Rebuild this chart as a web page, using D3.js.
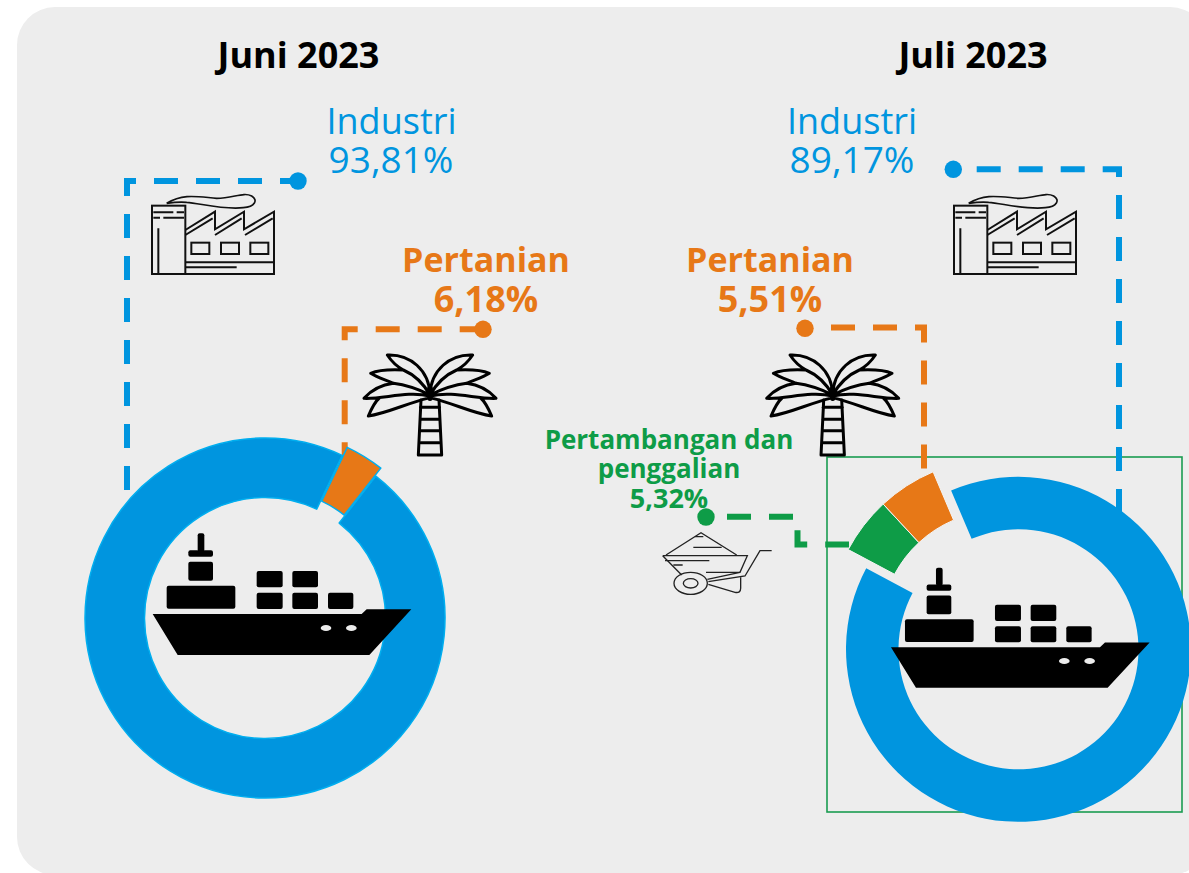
<!DOCTYPE html>
<html>
<head>
<meta charset="utf-8">
<script src="https://cdn.jsdelivr.net/npm/d3@7"></script>
<style>
    html, body { margin: 0; padding: 0; background: #fff; overflow: hidden; }
    svg { display: block; font-family: "Open Sans", sans-serif; }
</style>
</head>
<body>
<svg width="1189" height="873"></svg>
<script>
// Values as printed on the labels
var titles = ["Juni 2023", "Juli 2023"];
var sectorNames = ["Industri", "Pertanian", "Pertambangan dan", "penggalian"];
var juniLabels = ["93,81%", "6,18%"];
var juliLabels = ["89,17%", "5,51%", "5,32%"];

// Ring shares, clockwise. Juni is what the picture draws: its orange slice spans
// about 12.6 degrees (3.5%), not the 6.18% on the label. Juli matches its labels.
var juniShares = [96.5, 3.5];
var juliShares = [89.17, 5.32, 5.51];

var blue = "#0095df";
var orange = "#e77817";
var green = "#0e9c47";
var panel = "#ededed";

var juniColors = [blue, orange];
var juliColors = [blue, green, orange];

var svg = d3.select("svg");
var deg = Math.PI / 180;

// Panel
svg.append("rect")
    .attr("x", 17).attr("y", 7)
    .attr("width", 1191).attr("height", 868)
    .attr("rx", 38).attr("ry", 38)
    .attr("fill", panel);

// Green frame behind the Juli ring
svg.append("rect")
    .attr("x", 827).attr("y", 457)
    .attr("width", 355).attr("height", 355)
    .attr("fill", "none")
    .attr("stroke", "#1a9c50")
    .attr("stroke-width", 1.6);

// Dashed leaders
function leader(points, color, offset) {
    svg.append("path")
        .attr("d", d3.line()(points))
        .attr("fill", "none")
        .attr("stroke", color)
        .attr("stroke-width", 6)
        .attr("stroke-dasharray", "24 18")
        .attr("stroke-dashoffset", offset);
}

function dot(x, y, color) {
    svg.append("circle")
        .attr("cx", x).attr("cy", y).attr("r", 8.7)
        .attr("fill", color);
}

leader([[304, 181], [127, 181], [127, 491]], blue, 0);
dot(298, 181, blue);
leader([[483.7, 329.3], [344.7, 329.3], [344.7, 460]], orange, 0);
dot(483, 329.3, orange);

leader([[958.7, 169.3], [1119, 169.3], [1119, 514]], blue, 24);
dot(953.3, 169.3, blue);
leader([[813, 327.5], [924, 327.5], [924, 469]], orange, 24);
dot(805, 328.3, orange);
leader([[709, 516.7], [797.5, 516.7], [797.5, 544.5], [849, 544.5]], green, 24);
dot(706, 517, green);

// Rings
var juniArcs = d3.pie().sort(null)
    .startAngle(38 * deg).endAngle(398 * deg)(juniShares);
var juliArcs = d3.pie().sort(null)
    .startAngle(-23 * deg).endAngle(337 * deg)(juliShares);

var juniArc = d3.arc().innerRadius(120.5).outerRadius(180);
var juliArc = d3.arc().innerRadius(120).outerRadius(172.5);

var juniRing = svg.append("g").attr("transform", "translate(265,618)");
juniRing.selectAll("path")
    .data(juniArcs)
    .enter()
        .append("path")
        .attr("d", juniArc)
        .attr("fill", function(d, i) { return juniColors[i]; })
        .attr("stroke", "#00aeef")
        .attr("stroke-width", 1.5)
        .attr("stroke-linejoin", "round")
        .attr("transform", function(d, i) {
            return i == 1 ? "translate(5,-8)" : null;
        });

var juliRing = svg.append("g").attr("transform", "translate(1018.5,649.3)");
juliRing.selectAll("path")
    .data(juliArcs)
    .enter()
        .append("path")
        .attr("d", juliArc)
        .attr("fill", function(d, i) { return juliColors[i]; })
        .attr("stroke", function(d, i) { return i == 0 ? "none" : "#f4f4f4"; })
        .attr("stroke-width", 1)
        .attr("transform", function(d, i) {
            return i == 0 ? null : "translate(-18,-18.7)";
        });

// Icons, traced at 3x and scaled down
function ship(tx, ty, sy) {
    var g = svg.append("g")
        .attr("transform", "translate(" + tx + "," + ty + ") scale(" + (1 / 3) + "," + sy + ")");
    g.append("path")
        .attr("d", "M248,582 L875,582 L890,568 L1024,568 L898,705 L323,705 Z")
        .attr("fill", "#000");
    [[560, 453, 78, 49], [667, 453, 77, 49], [560, 518, 78, 49], [667, 518, 77, 49], [774, 518, 76, 49],
     [290, 497, 206, 69], [355, 425, 74, 57], [355, 391, 74, 19], [383, 340, 20, 55]].forEach(function(b) {
        g.append("rect")
            .attr("x", b[0]).attr("y", b[1])
            .attr("width", b[2]).attr("height", b[3])
            .attr("rx", 6)
            .attr("fill", "#000");
    });
    [768, 844].forEach(function(x) {
        g.append("ellipse")
            .attr("cx", x).attr("cy", 624)
            .attr("rx", 16).attr("ry", 9)
            .attr("fill", panel);
    });
}

function palmSide(g) {
    g.append("path").attr("d",
        "M270,225 C268,150 210,102 142,105 C155,125 172,140 190,150 C225,165 250,190 270,225 " +
        "M190,150 C150,148 115,150 92,160 C115,175 140,180 160,190 C200,195 240,210 270,225 " +
        "M160,190 C120,195 90,215 72,235 C130,238 200,212 270,228 " +
        "M118,234 C105,245 95,265 85,288 C140,280 200,250 262,235");
}

function palm(tx, ty) {
    var g = svg.append("g")
        .attr("transform", "translate(" + tx + "," + ty + ") scale(" + (1 / 3) + ")")
        .attr("fill", "none")
        .attr("stroke", "#000")
        .attr("stroke-width", 9)
        .attr("stroke-linejoin", "round")
        .attr("stroke-linecap", "round");
    palmSide(g);
    palmSide(g.append("g").attr("transform", "translate(540,0) scale(-1,1)"));
    g.append("path").attr("d", "M270,205 L270,235").attr("stroke-width", 16);
    g.append("path").attr("d", "M243,240 L235,405 L305,405 L297,240");
    [262, 298, 332, 368].forEach(function(y) {
        g.append("path").attr("d", "M242," + y + " L298," + y);
    });
}

function factory(tx, ty) {
    var g = svg.append("g")
        .attr("transform", "translate(" + tx + "," + ty + ") scale(" + (1 / 3) + ")")
        .attr("fill", "none")
        .attr("stroke", "#111")
        .attr("stroke-width", 6);
    g.append("rect").attr("x", 96).attr("y", 107).attr("width", 100).attr("height", 205);
    g.append("path").attr("d", "M100,127 L160,127 M170,127 L192,127 M100,143 L120,143 M130,143 L192,143 M115,175 L115,312");
    g.append("path").attr("d", "M196,180 L285,125 L285,178 L372,125 L372,178 L462,125 L462,312 L196,312");
    g.append("path").attr("d", "M196,195 L278,145 M285,195 L365,145 M375,195 L458,145");
    [214, 303, 391].forEach(function(x) {
        g.append("rect").attr("x", x).attr("y", 218).attr("width", 54).attr("height", 34);
    });
    g.append("path").attr("d", "M196,277 L462,277 M196,292 L350,292");
    g.append("path").attr("d", "M140,100 C190,70 230,80 290,85 C340,85 370,65 395,78 C415,90 405,110 370,113 C310,120 240,100 200,97 C180,95 160,97 140,100")
        .attr("stroke-width", 5);
}

function barrow(tx, ty) {
    var g = svg.append("g")
        .attr("transform", "translate(" + tx + "," + ty + ") scale(" + (1 / 3) + ")")
        .attr("fill", "none")
        .attr("stroke", "#222")
        .attr("stroke-width", 4);
    g.append("path").attr("d", "M78,645 L183,578 L290,645 M68,647 L322,647 L300,697 L198,697 M68,647 L125,705");
    g.append("path").attr("d", "M160,622 L245,622 M165,590 L190,590 M75,662 L208,662 M100,675 L128,675");
    g.append("ellipse").attr("cx", 152).attr("cy", 730).attr("rx", 50).attr("ry", 33);
    g.append("ellipse").attr("cx", 152).attr("cy", 730).attr("rx", 22).attr("ry", 14);
    g.append("path").attr("d", "M395,632 L360,632 L315,708 L205,725 M300,697 L202,718");
    g.append("path").attr("d", "M205,733 L285,757 Q302,760 302,745 L302,712");
}

ship(70, 420, 1 / 3);
ship(808.3, 455.9, 0.3287);
palm(340, 320);
palm(742.7, 320);
factory(120, 170);
factory(922, 170);
barrow(640, 340);

// Text
function label(text, x, y, size, weight, color) {
    svg.append("text")
        .attr("x", x).attr("y", y)
        .attr("text-anchor", "middle")
        .attr("font-size", size)
        .attr("font-weight", weight)
        .attr("fill", color)
        .text(text);
}

label(titles[0], 298.5, 68, 36, 700, "#000");
label(titles[1], 973, 68, 36, 700, "#000");

label(sectorNames[0], 391.5, 134, 36, 400, blue);
label(juniLabels[0], 391, 173, 37, 400, blue);
label(sectorNames[0], 852, 134, 36, 400, blue);
label(juliLabels[0], 852, 173, 37, 400, blue);

label(sectorNames[1], 486, 272, 34, 700, orange);
label(juniLabels[1], 486, 312, 36, 700, orange);
label(sectorNames[1], 770, 272, 34, 700, orange);
label(juliLabels[1], 770, 312, 36, 700, orange);

label(sectorNames[2], 669, 449, 26, 700, green);
label(sectorNames[3], 669, 478, 26, 700, green);
label(juliLabels[2], 669, 508, 27, 700, green);
</script>
</body>
</html>
